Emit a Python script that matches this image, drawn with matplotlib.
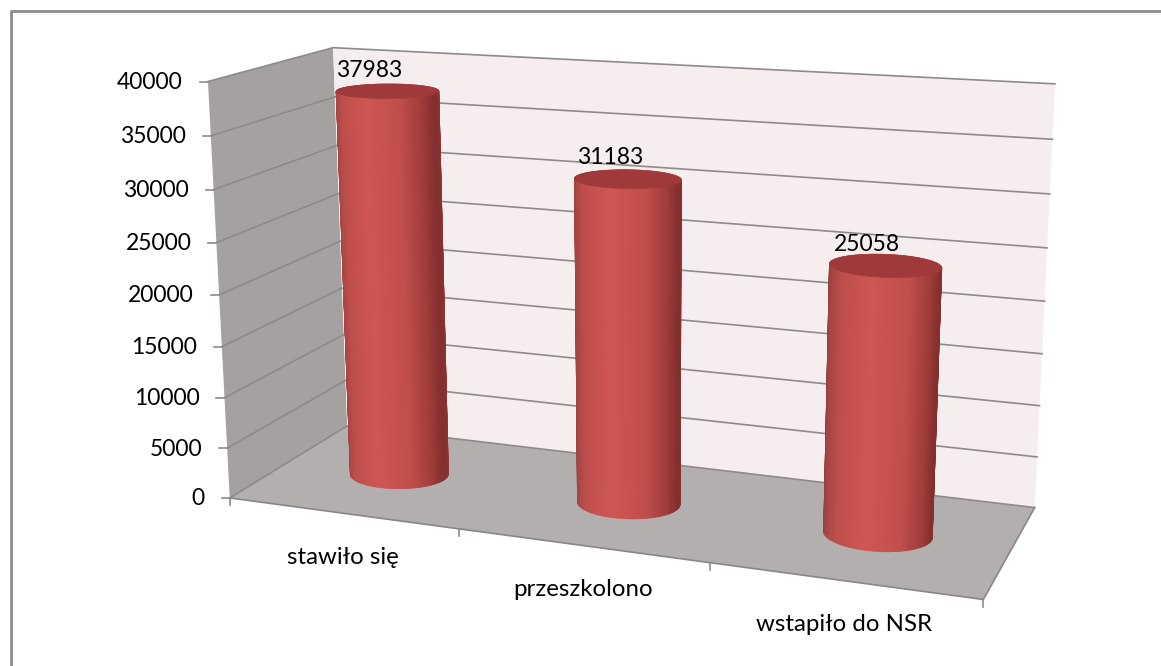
import numpy as np
import matplotlib
matplotlib.use("Agg")
import matplotlib.pyplot as plt
from matplotlib.collections import PolyCollection
from matplotlib.patches import Polygon

# Datos
categorias = ["stawiło się", "przeszkolono", "wstapiło do NSR"]
valores = [37983, 31183, 25058]
ticks_y = [0, 5000, 10000, 15000, 20000, 25000, 30000, 35000, 40000]
y_max = 40000

# Camara: esquinas del grafico (x, altura, profundidad) -> pixeles
esquinas_3d = [(0, 0, 0), (1, 0, 0), (1, 0, 1), (0, 0, 1), (0, 1, 0), (0, 1, 1), (1, 1, 1)]
esquinas_px = [(230, 498), (983, 600), (1035, 507), (347, 426), (208, 81), (333, 48), (1055, 84)]

A, b = [], []
for (x, y, z), (u, v) in zip(esquinas_3d, esquinas_px):
    A.append([x, y, z, 1, 0, 0, 0, 0, -u * x, -u * y, -u * z])
    A.append([0, 0, 0, 0, x, y, z, 1, -v * x, -v * y, -v * z])
    b += [u, v]
cam = np.linalg.lstsq(np.array(A, float), np.array(b, float), rcond=None)[0]
cam = np.append(cam, 1).reshape(3, 4)


def proyectar(x, valor, z):
    x, valor, z = np.broadcast_arrays(x, valor, z)
    p = np.stack([x, valor / y_max, z, np.ones_like(x, dtype=float)], axis=-1) @ cam.T
    return p[..., :2] / p[..., 2:]


def cuadro(xs, vs, zs):
    return proyectar(np.array(xs, float), np.array(vs, float), np.array(zs, float))


fig = plt.figure(figsize=(11.61, 6.66), dpi=100)
ax = fig.add_axes([0, 0, 1, 1])
ax.set_xlim(0, 1161)
ax.set_ylim(666, 0)
ax.axis("off")
plt.rcParams["font.family"] = "Lato"

# Marco: solo arriba y a la izquierda
ax.plot([10.5, 10.5, 1161], [666, 11, 11], color="#8c8c8c", lw=2)

# Paredes y suelo
color_rejilla = "#8f8a8a"
ax.add_patch(Polygon(cuadro([0, 0, 0, 0], [0, y_max, y_max, 0], [0, 0, 1, 1]), fc="#a5a1a1", ec="none"))
ax.add_patch(Polygon(cuadro([0, 1, 1, 0], [0, 0, y_max, y_max], [1, 1, 1, 1]), fc="#f6eeee", ec="none"))
ax.add_patch(Polygon(cuadro([0, 1, 1, 0], [0, 0, 0, 0], [0, 0, 1, 1]), fc="#b4afaf", ec="none"))

for t in ticks_y:
    pared = cuadro([0, 0, 1], [t, t, t], [0, 1, 1])
    ax.plot(pared[:, 0], pared[:, 1], color=color_rejilla, lw=1.2)
    ax.plot([pared[0, 0] - 8, pared[0, 0]], [pared[0, 1], pared[0, 1]], color=color_rejilla, lw=1.2)
    ax.text(pared[0, 0] - 25, pared[0, 1] + 1, str(t), ha="right", va="center", fontsize=16.5, color="black")

borde = cuadro([0, 1, 1, 0], [0, 0, 0, 0], [0, 0, 1, 1])
ax.plot(borde[[0, 1, 2], 0], borde[[0, 1, 2], 1], color="#8a8686", lw=1.2)

for i in range(len(categorias) + 1):
    p = proyectar(i / len(categorias), 0, 0)
    ax.plot([p[0], p[0]], [p[1], p[1] + 7], color=color_rejilla, lw=1.2)

# Cilindros: de izquierda (0) a derecha (1)
paradas = [0, 0.05, 0.2, 0.5, 0.8, 0.95, 1]
tonos = np.array(
    [[0x86, 0x3e, 0x3c], [0xa0, 0x44, 0x42], [0xbe, 0x4e, 0x4c], [0xd0, 0x57, 0x53],
     [0xc0, 0x4e, 0x4b], [0xa0, 0x3c, 0x3a], [0x84, 0x30, 0x2f]]) / 255
radio_x, radio_z = 0.068, 0.18
ang = np.linspace(0, 2 * np.pi, 121)

for i, (cat, val) in enumerate(zip(categorias, valores)):
    xc = (i + 0.5) / len(categorias)
    px = xc + radio_x * np.cos(ang)
    pz = 0.5 + radio_z * np.sin(ang)

    abajo = proyectar(px, 0, pz)
    arriba = proyectar(px, val, pz)
    caras, colores = [], []
    # de atras hacia adelante
    for k in np.argsort(-(pz[:-1] + pz[1:])):
        caras.append([abajo[k], abajo[k + 1], arriba[k + 1], arriba[k]])
        u = (np.cos((ang[k] + ang[k + 1]) / 2) + 1) / 2
        colores.append([np.interp(u, paradas, tonos[:, c]) for c in range(3)])
    ax.add_collection(PolyCollection(caras, facecolors=colores, edgecolors=colores, linewidths=0.6, zorder=3))
    ax.add_patch(Polygon(arriba, fc="#a03a3a", ec="#a03a3a", lw=0.5, zorder=4))

    centro = proyectar(xc, val, 0.5)
    ax.text(centro[0] - 18, centro[1] - 21, str(val), ha="center", va="center", fontsize=16.5, color="black", zorder=5)

    pie = proyectar(xc, 0, 0)
    ax.text(pie[0] + 1, pie[1] + 44, cat, ha="center", va="center", fontsize=17.3, color="black")

fig.savefig("out.png", dpi=100)
